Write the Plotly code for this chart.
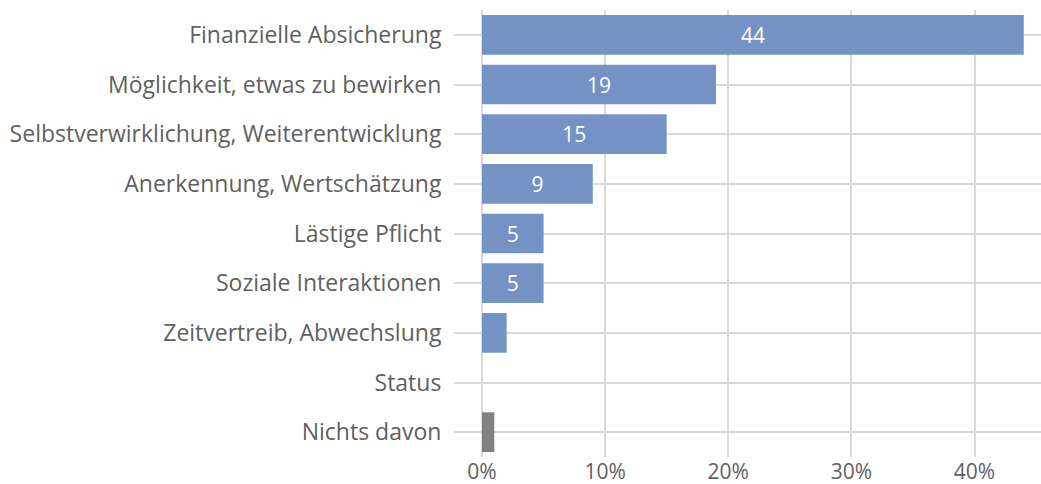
import plotly.graph_objects as go

categories = [
    "Finanzielle Absicherung",
    "Möglichkeit, etwas zu bewirken",
    "Selbstverwirklichung, Weiterentwicklung",
    "Anerkennung, Wertschätzung",
    "Lästige Pflicht",
    "Soziale Interaktionen",
    "Zeitvertreib, Abwechslung",
    "Status",
    "Nichts davon",
]
values = [44, 19, 15, 9, 5, 5, 2, 0, 1]
bar_labels = ["44", "19", "15", "9", "5", "5", "", "", ""]
x_tickvals = [0, 10, 20, 30, 40]
x_ticktext = ["0%", "10%", "20%", "30%", "40%"]

BLUE = "#7592c4"
GRAY = "#808080"
colors = [BLUE] * 8 + [GRAY]
FONT = "Open Sans"

fig = go.Figure(
    go.Bar(
        x=values,
        y=categories,
        orientation="h",
        marker=dict(color=colors, line=dict(width=0)),
        text=bar_labels,
        textposition="inside",
        insidetextanchor="middle",
        textfont=dict(color="white", size=21, family=FONT),
        hoverinfo="skip",
    )
)

fig.update_layout(
    width=1041,
    height=484,
    margin=dict(l=482, r=0, t=10, b=27),
    plot_bgcolor="white",
    paper_bgcolor="white",
    bargap=0.2,
    showlegend=False,
    font=dict(family=FONT, size=23, color="#5f5f5f"),
)
fig.update_xaxes(
    range=[0, 45.4],
    tickvals=x_tickvals,
    ticktext=x_ticktext,
    tickfont=dict(size=21),
    showgrid=True,
    gridcolor="#d9d9d9",
    gridwidth=1.5,
    zeroline=True,
    zerolinecolor="#d9d9d9",
    zerolinewidth=1.5,
    ticks="",
    ticklabelstandoff=0,
    showline=False,
    fixedrange=True,
)
fig.update_yaxes(
    autorange="reversed",
    showgrid=True,
    gridcolor="#d9d9d9",
    gridwidth=1.5,
    ticks="outside",
    ticklen=27,
    tickwidth=1.5,
    tickcolor="#d9d9d9",
    ticklabelstandoff=8,
    showline=False,
    fixedrange=True,
)

fig.write_html(
    "out.html",
    config={"displayModeBar": False},
    post_script="document.body.style.margin='0';document.body.style.overflow='hidden';",
)
